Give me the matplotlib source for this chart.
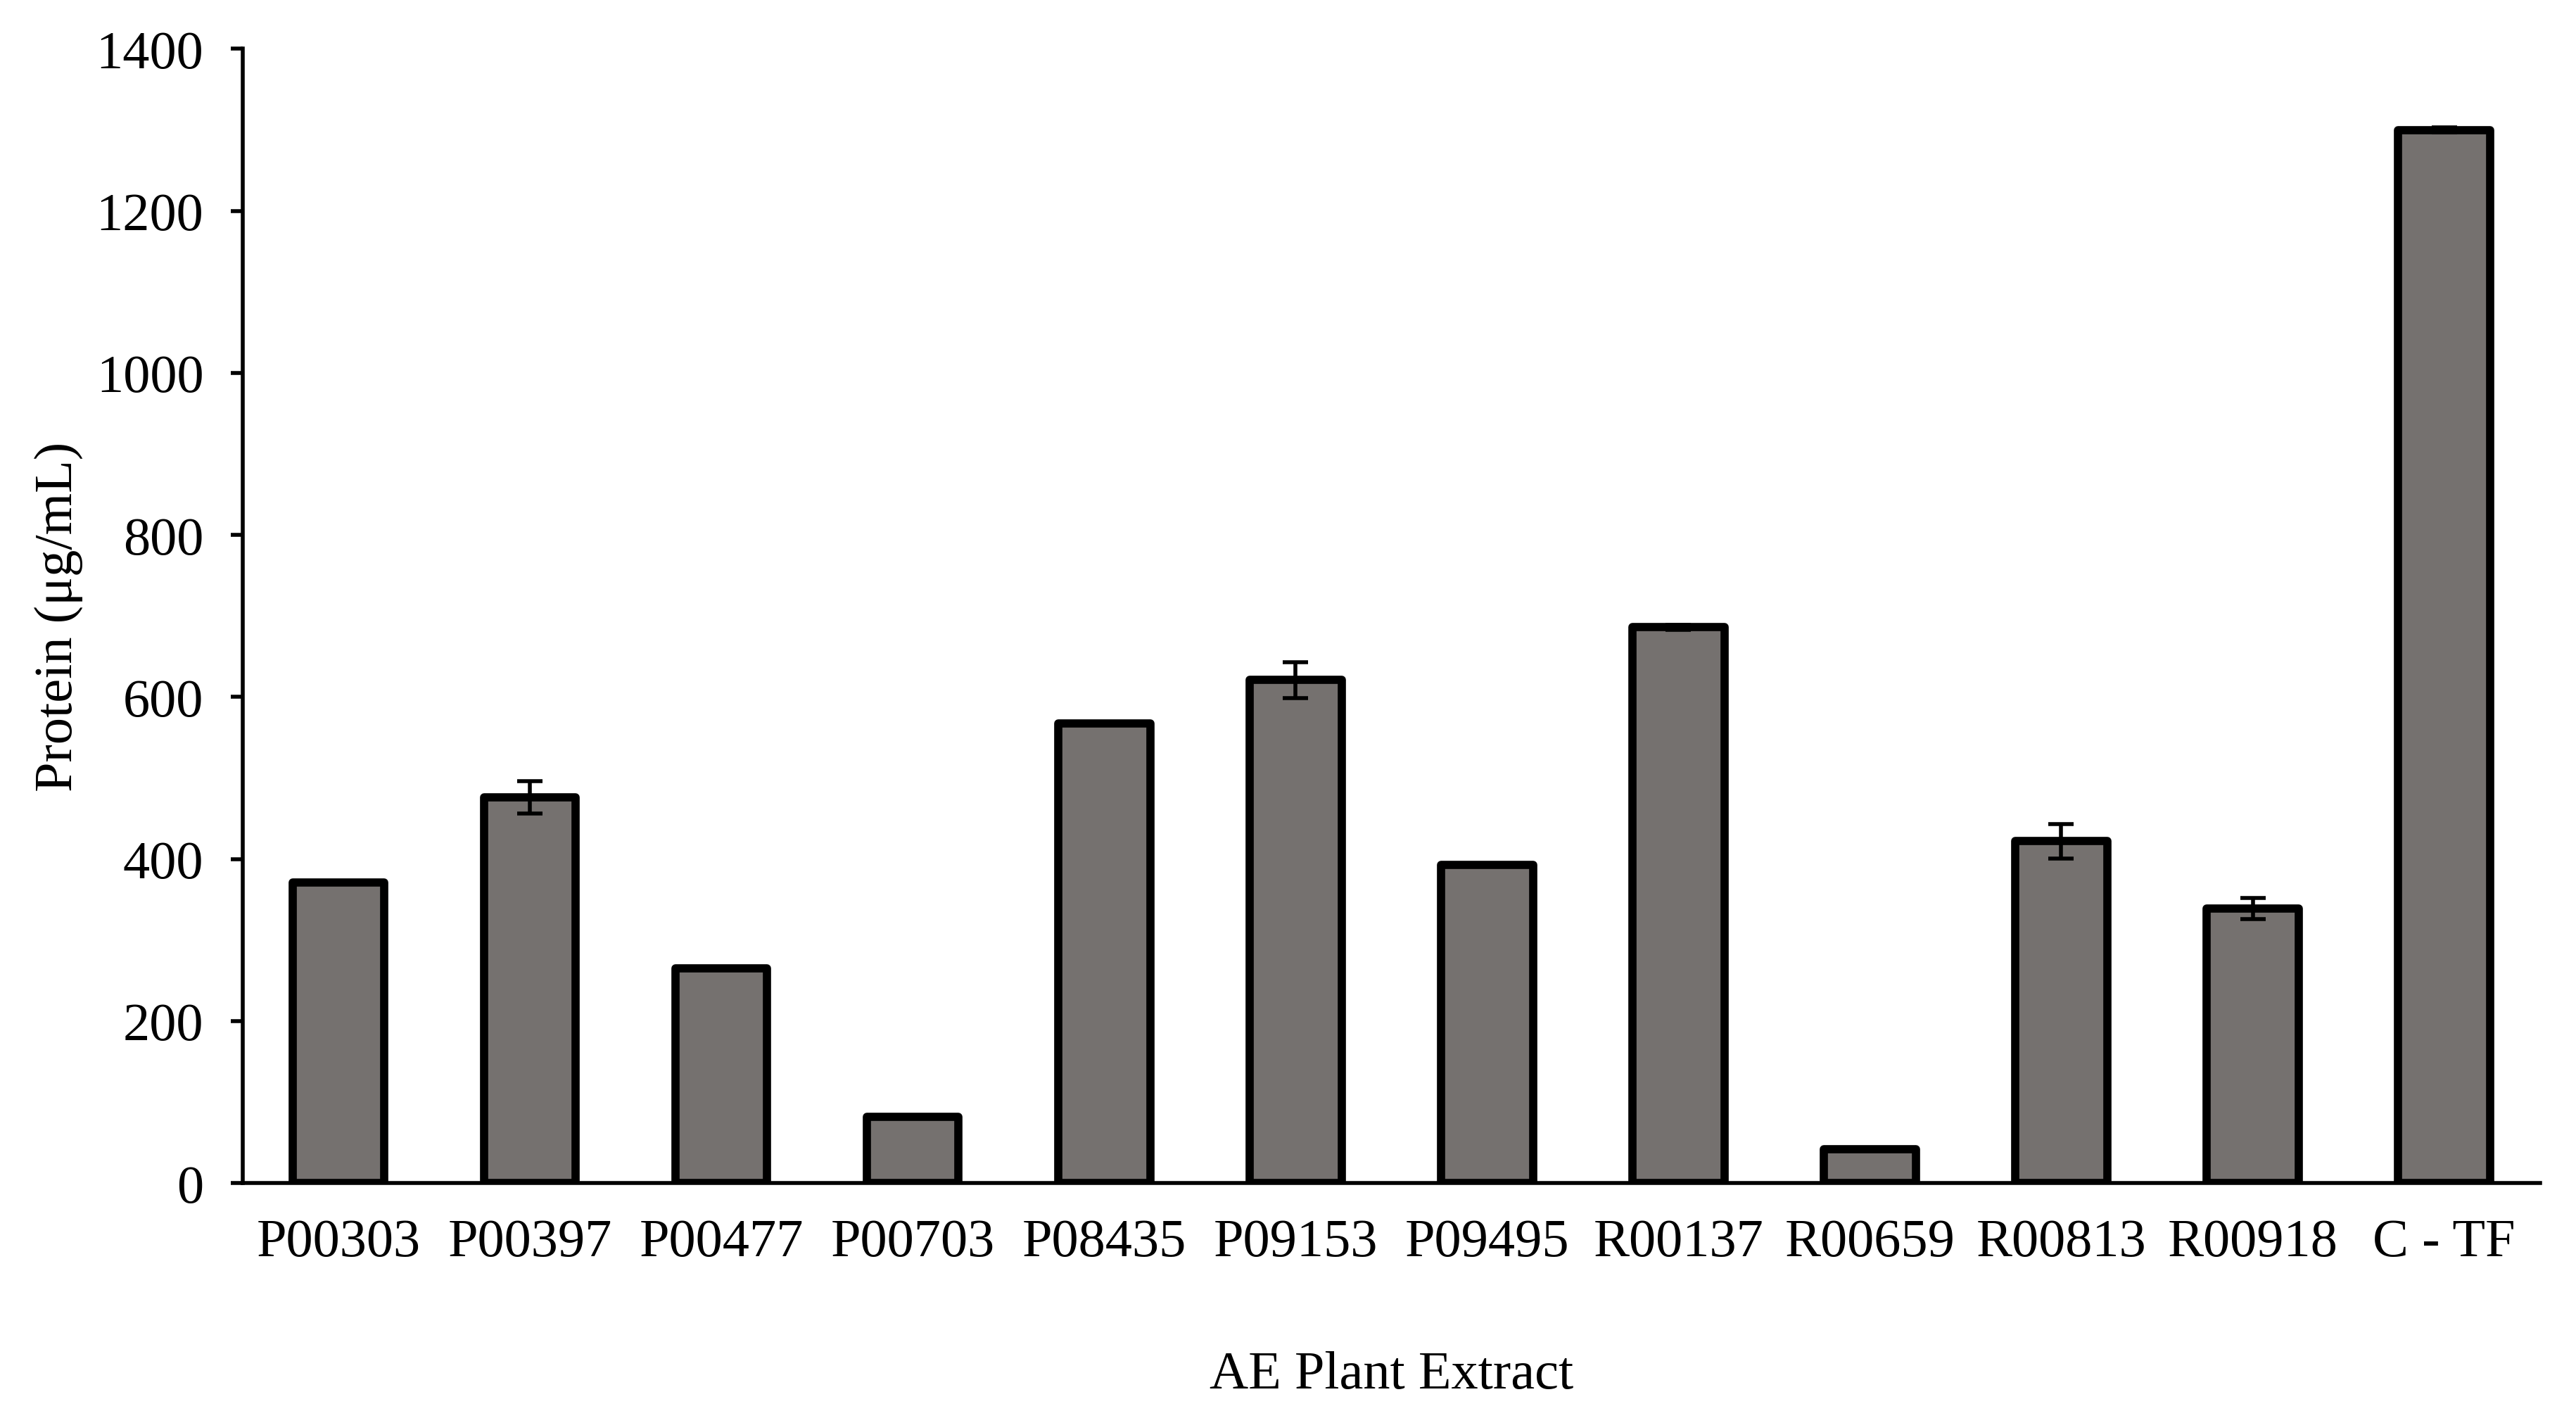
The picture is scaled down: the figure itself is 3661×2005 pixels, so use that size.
import matplotlib
matplotlib.use("Agg")
import matplotlib.pyplot as plt
import numpy as np

categories = ["P00303", "P00397", "P00477", "P00703", "P08435", "P09153",
              "P09495", "R00137", "R00659", "R00813", "R00918", "C - TF"]
protein = [371, 476, 265, 82, 567, 621, 393, 686, 42, 422, 339, 1300]
errors = [2, 20, 1, 1, 1, 22, 1, 3, 1, 21, 13, 3]
y_ticks = [0, 200, 400, 600, 800, 1000, 1200, 1400]

plt.rcParams['font.family'] = ['Liberation Serif', 'DejaVu Serif']

fig = plt.figure(figsize=(18.31, 10.03), dpi=200)
ax = fig.add_axes([0.0942, 0.1614, 0.8915, 0.8035])

x = np.arange(len(categories))
bars = ax.bar(x, protein, width=0.48, color='#75716f', edgecolor='black',
              linewidth=4.2, zorder=2)
for b in bars:
    b.set_joinstyle('round')
ax.errorbar(x, protein, yerr=errors, fmt='none', ecolor='black',
            elinewidth=2.0, capsize=6.5, capthick=2.0, zorder=3)

ax.set_xlim(-0.5, len(categories) - 0.5)
ax.set_ylim(0, 1400)
ax.set_yticks(y_ticks)
ax.set_yticklabels([str(t) for t in y_ticks], fontsize=27.5)
ax.set_xticks(x)
ax.set_xticklabels(categories, fontsize=27.5)

for side in ['top', 'right']:
    ax.spines[side].set_visible(False)
for side in ['left', 'bottom']:
    ax.spines[side].set_linewidth(2.0)
    ax.spines[side].set_color('black')
ax.spines['bottom'].set_zorder(4)

ax.tick_params(axis='y', direction='out', length=6, width=2.0, pad=14)
ax.tick_params(axis='x', length=0, pad=18)

ax.set_ylabel("Protein (μg/mL)", fontsize=27.5)
ax.yaxis.set_label_coords(-0.080, 0.5)
ax.yaxis.label.set_verticalalignment('center')
ax.set_xlabel("AE Plant Extract", fontsize=27.5)
ax.xaxis.set_label_coords(0.5, -0.169)
ax.xaxis.label.set_verticalalignment('center')

fig.savefig("out.png", dpi=200)
